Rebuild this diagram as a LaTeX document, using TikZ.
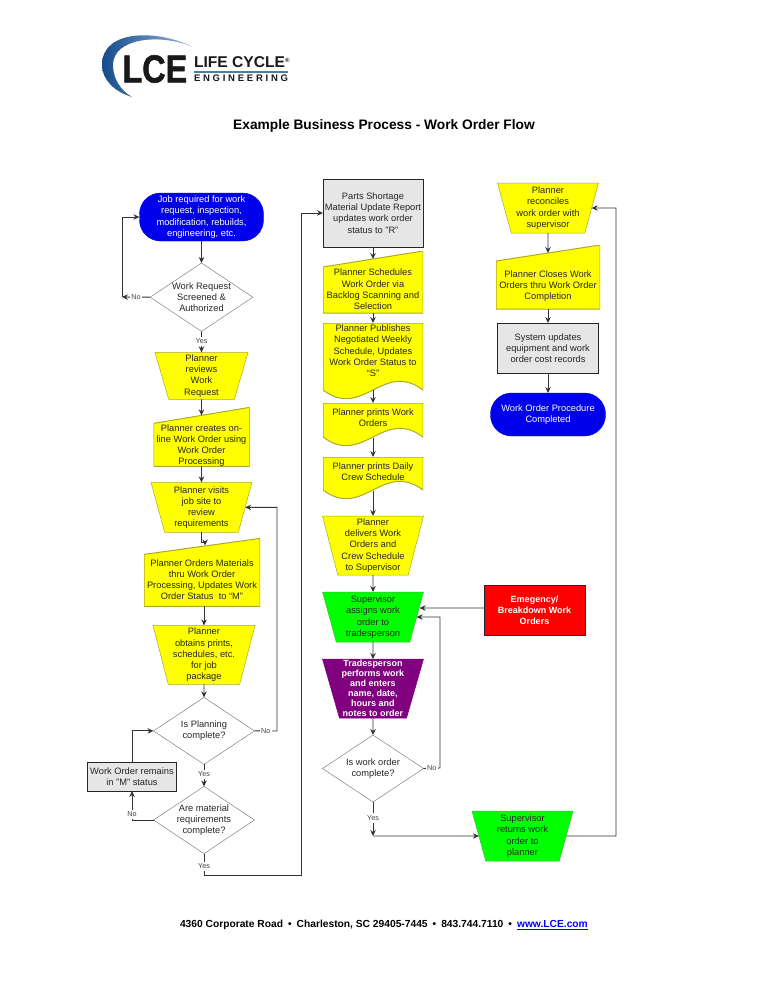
\documentclass[tikz,border=0pt]{standalone}
\usepackage{fontspec}
\usepackage{graphicx}
\setmainfont{Liberation Sans}
\usepackage{tikz}
\usetikzlibrary{arrows.meta,positioning,calc,shapes.geometric}

\definecolor{pillblue}{RGB}{0,0,235}
\definecolor{tradepurple}{RGB}{128,0,128}
\definecolor{lcered}{RGB}{255,0,0}
\definecolor{boxgray}{RGB}{230,230,230}
\definecolor{plannerfill}{RGB}{255,255,0}
\definecolor{yellowedge}{RGB}{170,170,40}
\definecolor{greenedge}{RGB}{60,190,60}
\definecolor{logodark}{RGB}{20,75,140}
\definecolor{logolight}{RGB}{150,185,215}
\definecolor{logorule}{RGB}{70,130,160}

\newcommand{\flowfont}{\fontsize{9.3}{11.2}\selectfont}
\newcommand{\ppb}{path picture bounding box}

\begin{document}
\begin{tikzpicture}[
    x=1pt, y=-1pt,
    every node/.style={font=\flowfont, align=center, inner sep=0pt, outer sep=0pt, text=black!85},
    pill/.style={rectangle, rounded corners=21pt, fill=pillblue, draw=pillblue, text=white},
    ask/.style={diamond, draw=black!50, line width=.5pt, minimum width=101pt, minimum height=67pt, aspect=1.5},
    trapbox/.style={trapezium, trapezium angle=72, trapezium stretches body, shape border rotate=180, draw=yellowedge, fill=plannerfill, line width=.5pt, minimum width=101pt, minimum height=50pt},
    slopebox/.style={rectangle, path picture={\draw[draw=yellowedge, fill=plannerfill, line width=1pt] (\ppb.south west) -- (\ppb.south east) -- (\ppb.north east) -- ($(\ppb.north west)+(0,16)$) -- cycle;}},
    wavebox/.style={rectangle, path picture={\draw[draw=yellowedge, fill=plannerfill, line width=1pt] (\ppb.north west) -- (\ppb.north east) -- ($(\ppb.south east)+(0,-8)$) .. controls +(-40,-30) and +(40,30) .. ($(\ppb.south west)+(0,-8)$) -- cycle;}},
    graybox/.style={rectangle, draw=black!85, fill=boxgray, line width=.8pt},
    textdrop/.style 2 args={text height=#1pt, text depth=#2pt},
    yesno/.style={font=\fontsize{7.2}{8}\selectfont, fill=white, inner xsep=1.5pt, inner ysep=2pt, text=black!75},
    arrow/.style={-{Stealth[length=6pt,width=5.5pt]}, line width=.9pt, draw=black!80},
]
    \useasboundingbox (0,0) rectangle (768,994);

    % Logo
    \shade[left color=logodark, right color=logolight] (193,47) .. controls (160,30) and (102,28) .. (102,65) .. controls (102,80) and (115,92) .. (132,97) .. controls (120,90) and (113,78) .. (113,65) .. controls (113,38) and (160,33) .. (193,47) -- cycle;
    \node[anchor=west, text=black!90] (lcemark) at (122.5,69) {\fontsize{39}{39}\selectfont\bfseries\addfontfeature{FakeBold=1.5}\scalebox{.83}[1]{LCE}};
    \node[anchor=west, text=black!90] (lifecycle) at (194,62) {\fontsize{15.6}{16}\selectfont\bfseries LIFE CYCLE\textsuperscript{\fontsize{6}{6}\selectfont\textregistered}};
    \node[anchor=west, text=black!90] (engineering) at (194,78.5) {\fontsize{9.5}{10}\selectfont\bfseries\addfontfeature{LetterSpace=29}ENGINEERING};
    \draw[draw=logorule, line width=2pt] (lifecycle.south west |- 0,72) -- (288,72);

    \node[text=black] (title) at (384,126) {\fontsize{13.75}{15}\selectfont\bfseries Example Business Process - Work Order Flow};

    % Left column
    \node[pill, minimum width=124pt, minimum height=48pt] (job) at (201.5,217) {Job required for work\\request, inspection,\\modification, rebuilds,\\engineering, etc.};
    \node[ask, below=22pt of job] (screened) {Work Request\\Screened \&\\Authorized};
    \node[trapbox, below=21pt of screened, minimum width=93pt, minimum height=47pt] (reviews) {Planner\\reviews\\Work\\Request};
    \node[slopebox, below=8pt of reviews, minimum width=96pt, minimum height=59pt, textdrop={57.5}{1.5}] (creates) {Planner creates on-\\line Work Order using\\Work Order\\Processing};
    \node[trapbox, below=16pt of creates] (visits) {Planner visits\\job site to\\review\\requirements};
    \node[slopebox, below=6pt of visits, xshift=.5pt, minimum width=116pt, minimum height=68pt, textdrop={61.5}{6.5}] (orders) {Planner Orders Materials\\thru Work Order\\Processing, Updates Work\\Order Status~ to ``M''};
    \node[trapbox, below=19pt of orders, xshift=2pt, minimum width=102pt, minimum height=59pt, trapezium angle=74] (obtains) {Planner\\obtains prints,\\schedules, etc.\\for job\\package};
    \node[ask, below=13pt of obtains] (planning) {Is Planning\\complete?};
    \node[ask, below=22pt of planning] (material) {Are material\\requirements\\complete?};
    \node[graybox, minimum width=89pt, minimum height=29pt] (remains) at (132,776.5) {Work Order remains\\in "M" status};

    % Middle column
    \node[graybox, minimum width=100pt, minimum height=68pt] (parts) at (373,213) {Parts Shortage\\Material Update Report\\updates work order\\status to "R"};
    \node[slopebox, below=4pt of parts, minimum width=100pt, minimum height=62pt, textdrop={58.5}{3.5}] (schedules) {Planner Schedules\\Work Order via\\Backlog Scanning and\\Selection};
    \node[wavebox, below=10pt of schedules, minimum width=100pt, minimum height=75pt, textdrop={53.5}{21.5}] (publishes) {Planner Publishes\\Negotiated Weekly\\Schedule, Updates\\Work Order Status to\\``S''};
    \node[wavebox, below=5pt of publishes, minimum width=100pt, minimum height=42pt, textdrop={23.5}{18.5}] (printswo) {Planner prints Work\\Orders};
    \node[wavebox, below=12pt of printswo, minimum width=100pt, minimum height=41pt, textdrop={23.5}{17.5}] (printscrew) {Planner prints Daily\\Crew Schedule};
    \node[trapbox, below=18pt of printscrew, minimum height=59pt, trapezium angle=74] (delivers) {Planner\\delivers Work\\Orders and\\Crew Schedule\\to Supervisor};
    \node[trapbox, below=17pt of delivers, fill=green, draw=greenedge] (assigns) {Supervisor\\assigns work\\order to\\tradesperson};
    \node[trapbox, below=17pt of assigns, fill=tradepurple, draw=tradepurple, minimum height=59pt, trapezium angle=74, text=white, font=\fontsize{9}{10}\selectfont\bfseries, textdrop={57.5}{1.5}] (performs) {Tradesperson\\performs work\\and enters\\name, date,\\hours and\\notes to order};
    \node[ask, below=17pt of performs] (wocheck) {Is work order\\complete?};
    \node[trapbox, fill=green, draw=greenedge] (returns) at (522.5,836) {Supervisor\\returns work\\order to\\planner};

    % Side boxes
    \node[graybox, fill=lcered, minimum width=101pt, minimum height=50pt, text=white, font=\fontsize{9}{11.2}\selectfont\bfseries] (emergency) at (534.5,610) {Emegency/\\Breakdown Work\\Orders};

    % Right column
    \node[trapbox] (reconciles) at (548,208) {Planner\\reconciles\\work order with\\supervisor};
    \node[slopebox, below=12pt of reconciles, minimum width=104pt, minimum height=64pt, textdrop={54.5}{9.5}] (closes) {Planner Closes Work\\Orders thru Work Order\\Completion};
    \node[graybox, below=14pt of closes, minimum width=101pt, minimum height=50pt] (updates) {System updates\\equipment and work\\order cost records};
    \node[pill, below=20pt of updates, minimum width=115pt, minimum height=43pt] (finished) {Work Order Procedure\\Completed};

    \node[anchor=west, text=black, font=\fontsize{10.25}{12}\selectfont\bfseries] (footer) at (180,925) {4360 Corporate Road\hspace{5pt}•\hspace{5pt}Charleston, SC 29405-7445\hspace{5pt}•\hspace{5pt}843.744.7110\hspace{5pt}•\hspace{5pt}\textcolor{blue}{\underline{www.LCE.com}}};

    \coordinate (noturn) at (122,297);
    \coordinate (replan) at (277,731);
    \coordinate (riser) at (301,875);
    \coordinate (again) at (440,768);
    \coordinate (yesjoin) at (373,836);
    \coordinate (backrun) at (616,836);

    \draw[arrow] (job) -- (screened);
    \draw[arrow] (screened.west) -- node[yesno]{No} (noturn);
    \draw[arrow] (noturn) |- (job.west);
    \draw[arrow] (screened) -- node[yesno, pos=.48]{Yes} (reviews);
    \draw[arrow] (reviews) -- ($(creates.north)+(0,8)$);
    \draw[arrow] (creates) -- (visits);
    \draw[arrow] (visits.south) -- ++(0,10) -| ($(orders.north)+(3,7)$);
    \draw[arrow] ($(orders.south)+(2,0)$) -- (obtains.north);
    \draw[arrow] (obtains) -- (planning);
    \draw[arrow] (planning.east) -- node[yesno]{No} (replan) |- (visits.east);
    \draw[arrow] (planning) -- node[yesno, pos=.45]{Yes} (material);
    \draw[arrow] (material.west) -| node[yesno, pos=.6]{No} (remains.south);
    \draw[arrow] (remains.north) |- (planning.west);
    \draw[arrow] (material.south) |- node[yesno, pos=.3]{Yes} (riser) |- (parts.west);

    \draw[arrow] (parts) -- ($(schedules.north)+(0,8)$);
    \draw[arrow] (schedules) -- (publishes);
    \draw[arrow] ($(publishes.south)+(0,-8)$) -- (printswo.north);
    \draw[arrow] ($(printswo.south)+(0,-7)$) -- (printscrew.north);
    \draw[arrow] ($(printscrew.south)+(0,-7)$) -- (delivers.north);
    \draw[arrow] (delivers) -- (assigns);
    \draw[arrow] (assigns) -- (performs);
    \draw[arrow] (performs) -- (wocheck);
    \draw[arrow] (wocheck.east) -- node[yesno, pos=.5]{No} (again) |- (assigns.east);
    \draw[arrow] ($(emergency.west)+(0,-2)$) -- ($(assigns.east)+(3,-9)$);
    \draw[arrow] (wocheck.south) -- node[yesno, pos=.47]{Yes} (yesjoin);
    \draw[arrow] (yesjoin) -- (returns.west);
    \draw[arrow] (returns.east) -- (backrun) |- (reconciles.east);

    \draw[arrow] (reconciles) -- ($(closes.north)+(0,8)$);
    \draw[arrow] (closes) -- (updates);
    \draw[arrow] (updates) -- (finished);
\end{tikzpicture}
\end{document}
